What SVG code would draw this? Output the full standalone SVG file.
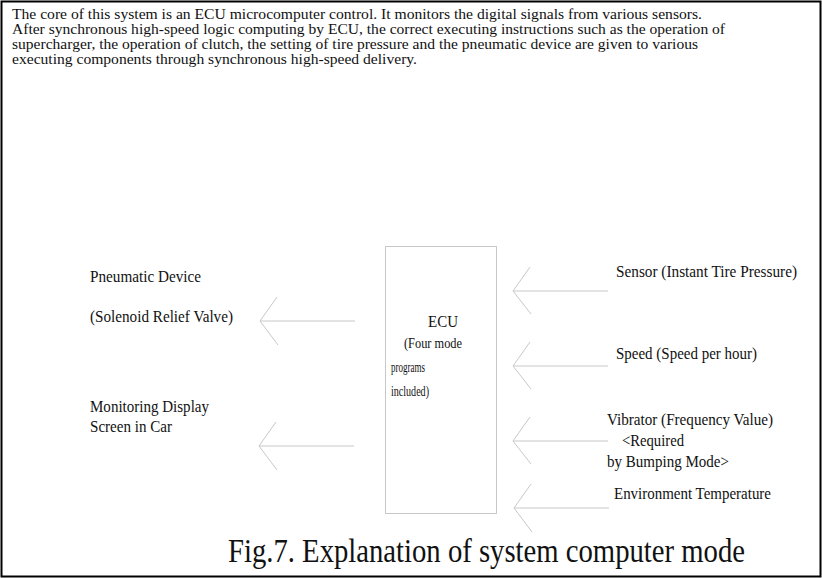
<svg xmlns="http://www.w3.org/2000/svg" width="822" height="578" viewBox="0 0 822 578">
  <defs>
    <style>
      .t { font-family: "Liberation Serif", "Times New Roman", serif; fill: #111; }
      .p { font-size: 14.5px; }
      .lbl { font-size: 17.5px; }
      .lbl2 { font-size: 17px; }
      .small { font-size: 14px; }
      .title { font-size: 33px; }
      .conn { stroke: #c8c8c8; stroke-width: 1; fill: none; }
      .box { fill: #fff; stroke: #c8c8c8; stroke-width: 1; }
    </style>
  </defs>
  <rect x="0" y="0" width="822" height="578" fill="#fff"/>
  <rect x="1.5" y="1.5" width="819" height="575" fill="none" stroke="#000" stroke-width="2"/>

  <g id="description">
    <text class="t p" x="12" y="19" textLength="690" lengthAdjust="spacingAndGlyphs">The core of this system is an ECU microcomputer control.  It monitors the digital signals from various sensors.</text>
    <text class="t p" x="12" y="34" textLength="713" lengthAdjust="spacingAndGlyphs">After synchronous high-speed logic computing by ECU, the correct executing instructions such as the operation of</text>
    <text class="t p" x="12" y="49" textLength="686" lengthAdjust="spacingAndGlyphs">supercharger, the operation of clutch, the setting of tire pressure and the pneumatic device are given to various</text>
    <text class="t p" x="12" y="64" textLength="405" lengthAdjust="spacingAndGlyphs">executing components through synchronous high-speed delivery.</text>
  </g>

  <g id="connectors">
    <path class="conn" d="M355,321 H260 M277,297 L260,321 L278,345"/>
    <path class="conn" d="M354,446 H259 M276,422 L259,446 L277,470"/>
    <path class="conn" d="M608,291 H513 M530,267 L513,291 L531,314"/>
    <path class="conn" d="M608,366 H513 M530,342 L513,366 L531,389"/>
    <path class="conn" d="M608,441 H513 M530,417 L513,441 L531,464"/>
    <path class="conn" d="M609,508 H514 M531,484 L514,508 L532,532"/>
  </g>

  <g id="ecu">
    <rect class="box" x="385.5" y="246.5" width="111" height="267"/>
    <text class="t lbl" x="428" y="327" textLength="30" lengthAdjust="spacingAndGlyphs">ECU</text>
    <text class="t small" x="404" y="348" textLength="58" lengthAdjust="spacingAndGlyphs">(Four mode</text>
    <text class="t small" x="391" y="372" textLength="34" lengthAdjust="spacingAndGlyphs">programs</text>
    <text class="t small" x="391" y="396" textLength="38" lengthAdjust="spacingAndGlyphs">included)</text>
  </g>

  <g id="pneumatic">
    <text class="t lbl" x="90" y="282" textLength="111" lengthAdjust="spacingAndGlyphs">Pneumatic Device</text>
    <text class="t lbl" x="90" y="322" textLength="143" lengthAdjust="spacingAndGlyphs">(Solenoid Relief Valve)</text>
  </g>

  <g id="monitor">
    <text class="t lbl2" x="90" y="412" textLength="119" lengthAdjust="spacingAndGlyphs">Monitoring Display</text>
    <text class="t lbl2" x="90" y="432" textLength="82" lengthAdjust="spacingAndGlyphs">Screen in Car</text>
  </g>

  <g id="sensor">
    <text class="t lbl" x="616" y="277" textLength="181" lengthAdjust="spacingAndGlyphs">Sensor (Instant Tire Pressure)</text>
  </g>
  <g id="speed">
    <text class="t lbl" x="616" y="359" textLength="141" lengthAdjust="spacingAndGlyphs">Speed (Speed per hour)</text>
  </g>
  <g id="vibrator">
    <text class="t lbl" x="607" y="425" textLength="166" lengthAdjust="spacingAndGlyphs">Vibrator (Frequency Value)</text>
    <text class="t lbl" x="622" y="446" textLength="62" lengthAdjust="spacingAndGlyphs">&lt;Required</text>
    <text class="t lbl" x="607" y="467" textLength="122" lengthAdjust="spacingAndGlyphs">by Bumping Mode&gt;</text>
  </g>
  <g id="environment">
    <text class="t lbl" x="614" y="499" textLength="157" lengthAdjust="spacingAndGlyphs">Environment Temperature</text>
  </g>

  <g id="caption">
    <text class="t title" x="228" y="562" textLength="517" lengthAdjust="spacingAndGlyphs">Fig.7. Explanation of system computer mode</text>
  </g>
</svg>
